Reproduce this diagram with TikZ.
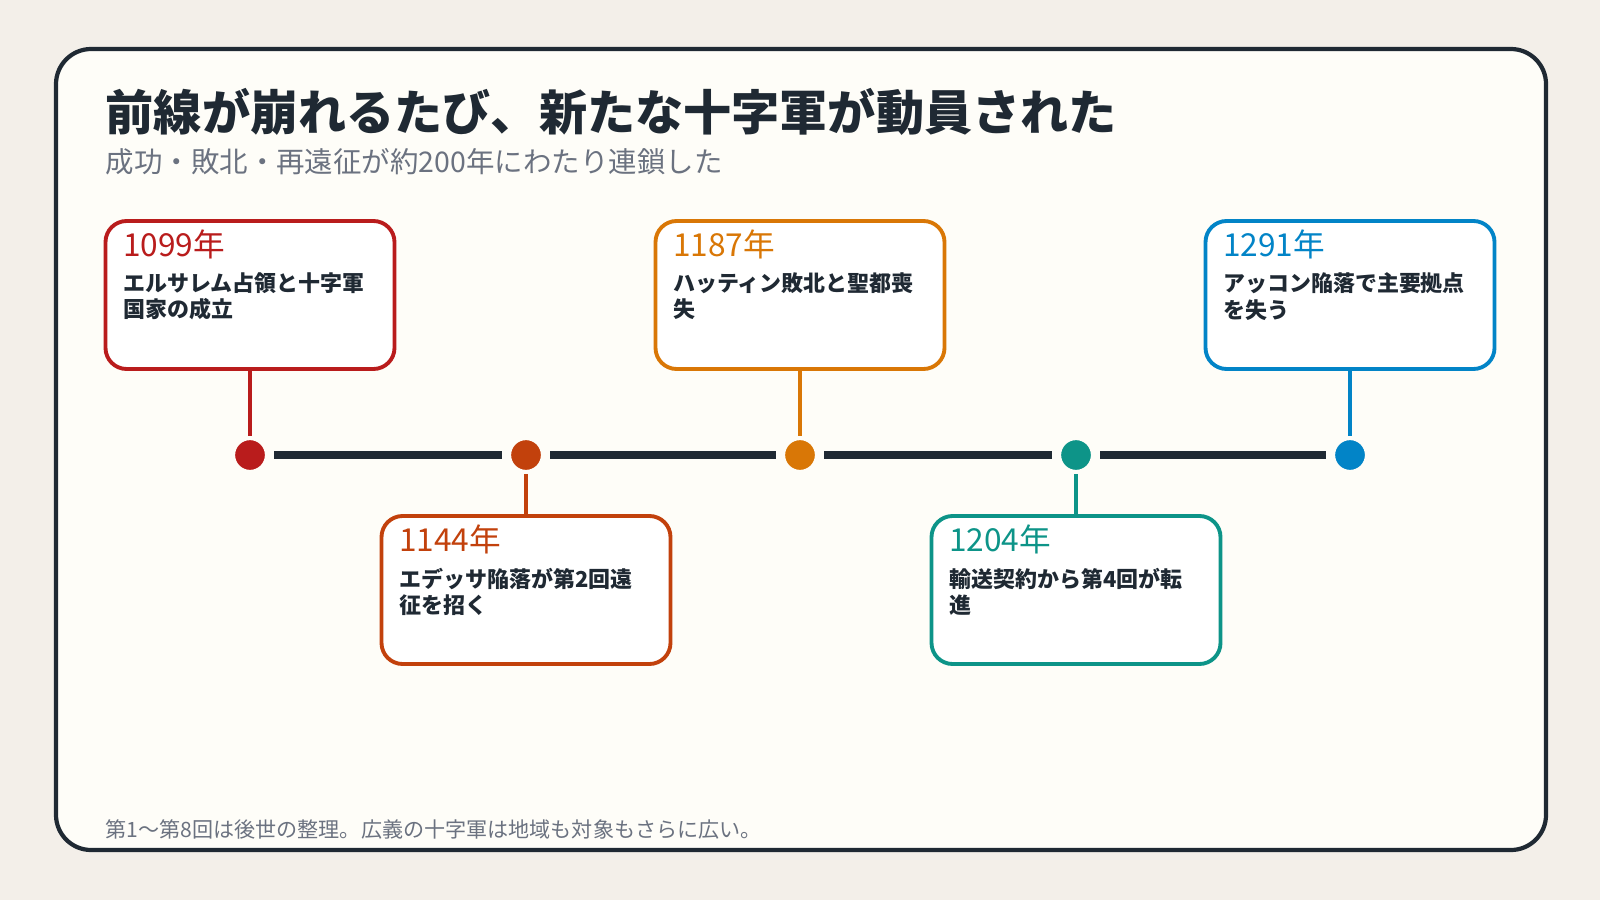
\documentclass[tikz,border=0pt]{standalone}
\usepackage{fontspec}
\setmainfont{Noto Sans CJK JP}
\usetikzlibrary{positioning}
\definecolor{bgpage}{HTML}{F3EFE9}
\definecolor{bgcard}{HTML}{FEFDF8}
\definecolor{ink}{HTML}{1F2933}
\definecolor{subgray}{HTML}{6B7280}
\definecolor{cA}{HTML}{B91C1C}
\definecolor{cB}{HTML}{C2410C}
\definecolor{cC}{HTML}{D97706}
\definecolor{cD}{HTML}{0D9488}
\definecolor{cE}{HTML}{0284C7}
\tikzset{
  evbox/.style={draw=#1, line width=1.1pt, rounded corners=6pt, fill=white,
    minimum width=2.89cm, minimum height=1.48cm, inner sep=0pt},
  evdot/.style={circle, fill=#1, draw=bgcard, line width=1.2pt, minimum size=0.34cm, inner sep=0pt},
  stem/.style={draw=#1, line width=1.2pt},
}
\begin{document}
\begin{tikzpicture}[x=1cm,y=1cm]
\useasboundingbox (0,0) rectangle (16,9);
\fill[bgpage] (0,0) rectangle (16,9);
\draw[ink, line width=1.2pt, fill=bgcard, rounded corners=10pt] (0.56,0.50) rectangle (15.46,8.51);

\node[anchor=base west, inner sep=0pt, text=ink, font=\fontsize{13.7}{16}\selectfont\bfseries] (title) at (1.05,7.69)
  {前線が崩れるたび、新たな十字軍が動員された};
\node[anchor=base west, inner sep=0pt, text=subgray, font=\fontsize{8.1}{10}\selectfont] (subtitle) at (1.05,7.27)
  {成功・敗北・再遠征が約200年にわたり連鎖した};
\node[anchor=base west, inner sep=0pt, text=subgray, font=\fontsize{6}{7}\selectfont] (note) at (1.05,0.63)
  {第1〜第8回は後世の整理。広義の十字軍は地域も対象もさらに広い。};

% timeline
\foreach \i/\x/\c in {1/2.50/cA, 2/5.26/cB, 3/8.00/cC, 4/10.76/cD, 5/13.50/cE}
  \node[evdot=\c] (d\i) at (\x,4.45) {};
\foreach \a/\b in {1/2, 2/3, 3/4, 4/5}
  \draw[ink, line width=2pt, shorten <=1.5pt, shorten >=1.5pt] (d\a) -- (d\b);

% events
\foreach \i/\c/\yr/\la/\lb/\y in {
  1/cA/1099年/エルサレム占領と十字軍/国家の成立/6.05,
  2/cB/1144年/エデッサ陥落が第2回遠/征を招く/3.10,
  3/cC/1187年/ハッティン敗北と聖都喪/失/6.05,
  4/cD/1204年/輸送契約から第4回が転/進/3.10,
  5/cE/1291年/アッコン陥落で主要拠点/を失う/6.05}{
  \node[evbox=\c] (b\i) at (d\i |- 0,\y) {};
  \node[anchor=base west, inner sep=0pt, text=\c, font=\fontsize{9}{11}\selectfont]
    (y\i) at ([xshift=0.19cm, yshift=-0.37cm]b\i.north west) {\yr};
  \node[anchor=north west, inner sep=0pt, text=ink, align=left,
    font=\fontsize{6.25}{7.5}\selectfont\bfseries]
    (t\i) at ([xshift=0.19cm, yshift=-0.53cm]b\i.north west) {\la\\\lb};
  \draw[stem=\c] (b\i) -- (d\i);
}
\end{tikzpicture}
\end{document}
